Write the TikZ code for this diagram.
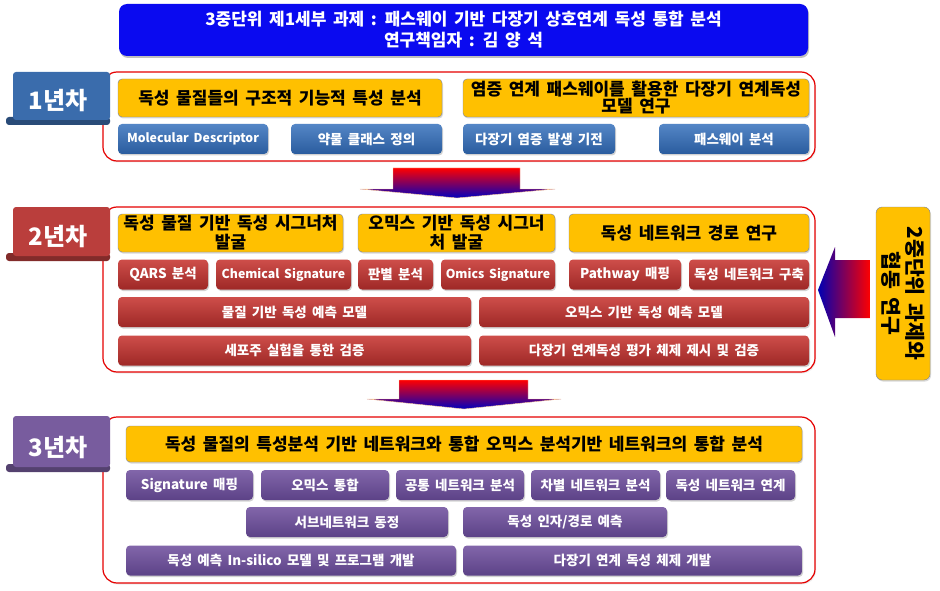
\documentclass[tikz,border=0pt]{standalone}
\usepackage{fontspec}
\setmainfont{Noto Sans CJK KR}[WordSpace=1.7]
\usetikzlibrary{shadows}
\definecolor{titleblue}{RGB}{10,10,240}
\definecolor{goldbox}{RGB}{255,192,0}
\definecolor{goldline}{RGB}{120,130,160}
\definecolor{blueA}{RGB}{84,134,198}
\definecolor{blueB}{RGB}{42,92,158}
\definecolor{redA}{RGB}{206,78,74}
\definecolor{redB}{RGB}{158,40,38}
\definecolor{purA}{RGB}{130,102,170}
\definecolor{purB}{RGB}{92,66,135}
\definecolor{tagblue}{RGB}{58,108,172}
\definecolor{tagred}{RGB}{186,62,60}
\definecolor{tagpur}{RGB}{120,92,158}
\tikzset{
	phase/.style={draw=red!90!black, line width=1.2pt, rounded corners=14pt, fill=white,
			drop shadow={opacity=0.15, shadow xshift=1pt, shadow yshift=-1.5pt}},
	goal/.style={draw=goldline, fill=goldbox, rounded corners=4pt, align=center,
			minimum height=38pt, inner sep=1pt, text=black,
			font=\fontsize{17}{19}\selectfont\bfseries,
			drop shadow={opacity=0.3, shadow xshift=1pt, shadow yshift=-1.5pt}},
	task/.style={rounded corners=4pt, minimum height=30pt, inner sep=1pt, text=white,
			font=\fontsize{13.5}{14}\selectfont\bfseries,
			drop shadow={opacity=0.35, shadow xshift=1pt, shadow yshift=-1.5pt}},
	latin/.style={font=\fontsize{12.3}{13}\selectfont\bfseries},
	bluetask/.style={task, top color=blueA, bottom color=blueB},
	redtask/.style={task, top color=redA, bottom color=redB},
	purtask/.style={task, top color=purA, bottom color=purB},
	tagtext/.style={text=white, font=\fontsize{24}{24}\selectfont\bfseries}
}
\begin{document}
\begin{tikzpicture}[x=1pt, y=-1pt]
	\useasboundingbox (0,0) rectangle (940,591);

	% Title
	\node[fill=titleblue, rounded corners=8pt, minimum width=689pt, minimum height=52pt,
		align=center, text=white, font=\fontsize{17}{21}\selectfont\bfseries,
		drop shadow={opacity=0.5, shadow xshift=1pt, shadow yshift=-2pt}] (title) at (463.5,30)
		{3중단위 제1세부 과제 : 패스웨이 기반 다장기 상호연계 독성 통합 분석\\연구책임자 : 김 양 석};

	% Year 1
	\draw[phase] (103,72) rectangle (815,161);
	\fill[tagblue!70!black, rounded corners=3pt] (6,117) rectangle (110,125);
	\fill[tagblue, rounded corners=3pt] (13,72) rectangle (110,120);
	\node[tagtext] (y1) at (58,101) {1년차};
	\node[goal, minimum width=324pt] (g1a) at (280,98) {독성 물질들의 구조적 기능적 특성 분석};
	\node[goal, minimum width=346pt, font=\fontsize{17}{17}\selectfont\bfseries] (g1b) at (636,98)
		{염증 연계 패스웨이를 활용한 다장기 연계독성\\모델 연구};
	\node[bluetask, latin, minimum width=150pt] (md) at (193,139) {Molecular Descriptor};
	\node[bluetask, minimum width=151pt] (cls) at (366.5,139) {약물 클래스 정의};
	\node[bluetask, minimum width=152pt] (infl) at (539,139) {다장기 염증 발생 기전};
	\node[bluetask, minimum width=150pt] (pw) at (734,139) {패스웨이 분석};

	% Arrow to year 2
	\shade[top color=red, bottom color=blue!75!black, draw=orange!40, line width=0.4pt]
	(393,168) -- (520,168) -- (520,189) -- (555,189) -- (457,198) -- (360,189) -- (393,189) -- cycle;

	% Year 2
	\draw[phase] (103,207) rectangle (815,372);
	\fill[tagred!70!black, rounded corners=3pt] (6,253) rectangle (110,261);
	\fill[tagred, rounded corners=3pt] (13,207) rectangle (110,256);
	\node[tagtext] (y2) at (58,237) {2년차};
	\node[goal, minimum width=225pt] (g2a) at (230.5,233) {독성 물질 기반 독성 시그너처\\발굴};
	\node[goal, minimum width=197pt] (g2b) at (456.5,233) {오믹스 기반 독성 시그너\\처 발굴};
	\node[goal, minimum width=240pt] (g2c) at (689,233) {독성 네트워크 경로 연구};
	\node[redtask, minimum width=90pt] (qars) at (163,274.5) {QARS 분석};
	\node[redtask, latin, minimum width=135pt] (chem) at (283.5,274.5) {Chemical Signature};
	\node[redtask, minimum width=75pt] (disc) at (395.5,274.5) {판별 분석};
	\node[redtask, latin, minimum width=114pt] (omics) at (498,274.5) {Omics Signature};
	\node[redtask, minimum width=112pt] (pmap) at (625,274.5) {Pathway 매핑};
	\node[redtask, minimum width=120pt] (net) at (749,274.5) {독성 네트워크 구축};
	\node[redtask, minimum width=353pt] (mpred) at (294.5,312) {물질 기반 독성 예측 모델};
	\node[redtask, minimum width=330pt] (opred) at (644,312) {오믹스 기반 독성 예측 모델};
	\node[redtask, minimum width=353pt] (cell) at (294.5,350.5) {세포주 실험을 통한 검증};
	\node[redtask, minimum width=330pt] (eval) at (644,350.5) {다장기 연계독성 평가 체제 제시 및 검증};

	% Collaboration box and arrow
	\node[draw=goldline, fill=goldbox, rounded corners=6pt, minimum width=173pt, minimum height=54pt,
		rotate=-90, align=center, font=\fontsize{20.5}{24}\selectfont\bfseries,
		drop shadow={opacity=0.3, shadow xshift=1pt, shadow yshift=-1.5pt}] (coop) at (903,293.5)
		{2중단위 과제와\\협동 연구};
	\shade[left color=blue!70!black, right color=red]
	(818,290) -- (835,247) -- (835,260) -- (870,260) -- (870,318) -- (835,318) -- (835,337) -- cycle;

	% Arrow to year 3
	\shade[top color=red, bottom color=blue!75!black, draw=orange!40, line width=0.4pt]
	(399,380) -- (528,380) -- (528,399) -- (561,399) -- (464,409) -- (367,399) -- (399,399) -- cycle;

	% Year 3
	\draw[phase] (103,417) rectangle (815,583);
	\fill[tagpur!70!black, rounded corners=3pt] (6,464) rectangle (110,472);
	\fill[tagpur, rounded corners=3pt] (13,416) rectangle (110,467);
	\node[tagtext] (y3) at (58,448) {3년차};
	\node[goal, minimum width=676pt, minimum height=36pt] (g3) at (464,444)
		{독성 물질의 특성분석 기반 네트워크와 통합 오믹스 분석기반 네트워크의 통합 분석};
	\node[purtask, minimum width=127pt] (smap) at (189.5,485) {Signature 매핑};
	\node[purtask, minimum width=128pt] (oint) at (325,485) {오믹스 통합};
	\node[purtask, minimum width=128pt] (common) at (460,485) {공통 네트워크 분석};
	\node[purtask, minimum width=129pt] (diff) at (595.5,485) {차별 네트워크 분석};
	\node[purtask, minimum width=129pt] (link) at (730.5,485) {독성 네트워크 연계};
	\node[purtask, minimum width=202pt] (sub) at (347,522) {서브네트워크 동정};
	\node[purtask, minimum width=204pt] (factor) at (565,522) {독성 인자/경로 예측};
	\node[purtask, minimum width=330pt] (insilico) at (291,560.5) {독성 예측 In-silico 모델 및 프로그램 개발};
	\node[purtask, minimum width=339pt] (multi) at (632.5,560.5) {다장기 연계 독성 체제 개발};
\end{tikzpicture}
\end{document}
